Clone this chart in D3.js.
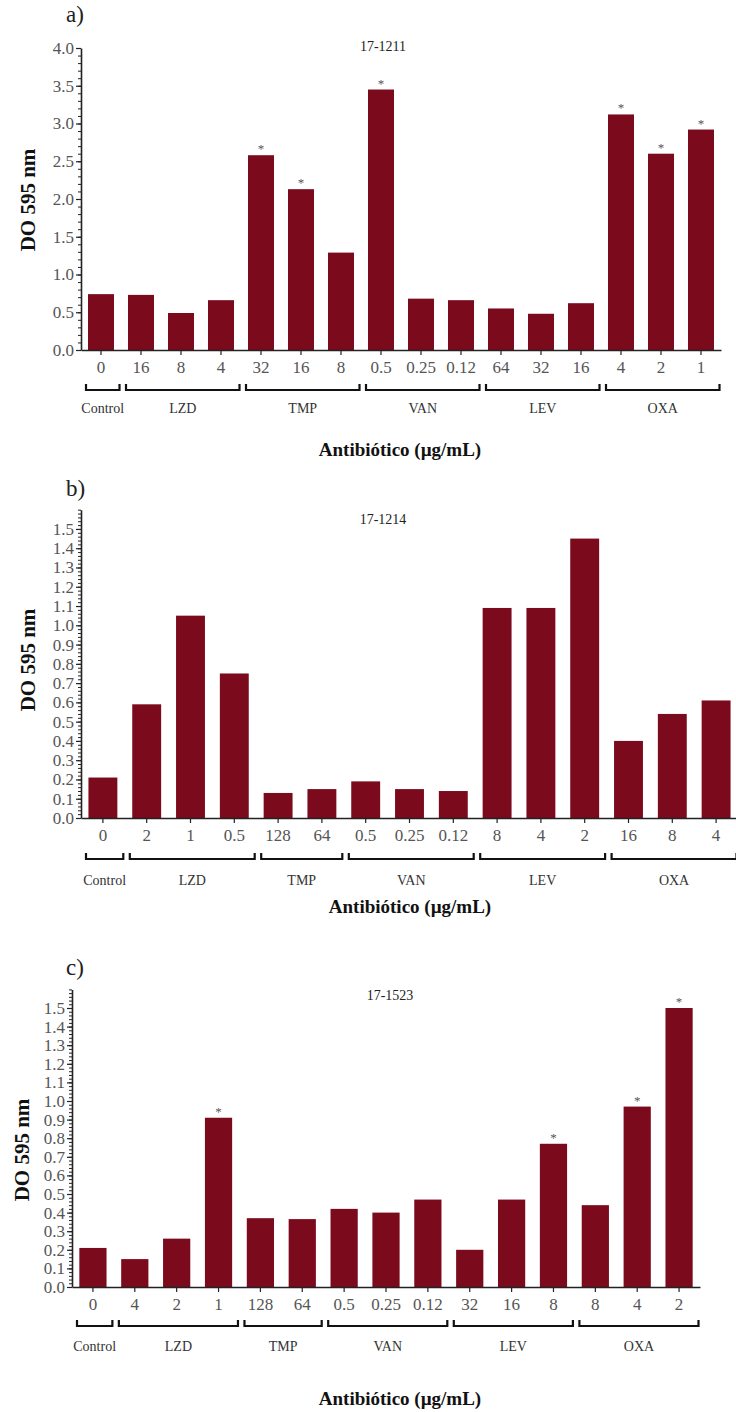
<!DOCTYPE html>
<html>
<head>
<meta charset="utf-8">
<script src="https://cdn.jsdelivr.net/npm/d3@7"></script>
<style>
  html, body { margin: 0; padding: 0; background: #fff; }
  svg { display: block; }
  svg text { font-family: "Liberation Serif", "Times New Roman", Times, "DejaVu Serif", serif; fill: #222; }
</style>
</head>
<body>
<svg id="chart" width="736" height="1412"></svg>
<script>
// ---- Panel a) strain 17-1211 ----
const doseLabelsA = ["0","16","8","4","32","16","8","0.5","0.25","0.12","64","32","16","4","2","1"];
const valuesA     = [0.74,0.73,0.49,0.66,2.58,2.13,1.29,3.45,0.68,0.66,0.55,0.48,0.62,3.12,2.60,2.92];
const signifA     = [0,0,0,0,1,1,0,1,0,0,0,0,0,1,1,1];
const groupNamesA = ["Control","LZD","TMP","VAN","LEV","OXA"];
const groupSizesA = [1,3,3,3,3,3];

// ---- Panel b) strain 17-1214 ----
const doseLabelsB = ["0","2","1","0.5","128","64","0.5","0.25","0.12","8","4","2","16","8","4"];
const valuesB     = [0.21,0.59,1.05,0.75,0.13,0.15,0.19,0.15,0.14,1.09,1.09,1.45,0.40,0.54,0.61];
const signifB     = [0,0,0,0,0,0,0,0,0,0,0,0,0,0,0];
const groupNamesB = ["Control","LZD","TMP","VAN","LEV","OXA"];
const groupSizesB = [1,3,2,3,3,3];

// ---- Panel c) strain 17-1523 ----
const doseLabelsC = ["0","4","2","1","128","64","0.5","0.25","0.12","32","16","8","8","4","2"];
const valuesC     = [0.21,0.15,0.26,0.91,0.37,0.365,0.42,0.40,0.47,0.20,0.47,0.77,0.44,0.97,1.50];
const signifC     = [0,0,0,1,0,0,0,0,0,0,0,1,0,1,1];
const groupNamesC = ["Control","LZD","TMP","VAN","LEV","OXA"];
const groupSizesC = [1,3,2,3,3,3];

const yTicksA = [0,0.5,1.0,1.5,2.0,2.5,3.0,3.5,4.0];
const yTicksBC = [0,0.1,0.2,0.3,0.4,0.5,0.6,0.7,0.8,0.9,1.0,1.1,1.2,1.3,1.4,1.5];

const BAR = "#7c0a1d";
const SERIF = '"Liberation Serif", "Times New Roman", Times, "DejaVu Serif", serif';
const svg = d3.select("#chart");

function drawPanel(p) {
  const g = svg.append("g").attr("font-family", SERIF);
  const idx = d3.range(p.labels.length);
  const x = d3.scaleBand().domain(idx).range([p.x0, p.x1]).paddingInner(p.pad).paddingOuter(p.pad / 2);
  const y = d3.scaleLinear().domain([0, p.yMax]).range([p.yZero, p.yTopPx]);

  // bars
  g.selectAll("rect.bar").data(p.values).enter().append("rect")
    .attr("x", (d, i) => x(i)).attr("width", x.bandwidth())
    .attr("y", d => y(d)).attr("height", d => y(0) - y(d))
    .attr("fill", BAR);

  // significance marks
  g.selectAll("text.star").data(p.values.map((v, i) => ({ v, i })).filter(d => p.signif[d.i]))
    .enter().append("text")
    .attr("x", d => x(d.i) + x.bandwidth() / 2).attr("y", d => y(d.v) - 2)
    .attr("text-anchor", "middle").attr("font-size", 13).style("fill", "#555").text("*");

  // minor y ticks
  const minor = d3.range(0, p.yMax + 1e-9, p.minorStep);
  g.append("g").attr("transform", `translate(${p.x0},0)`)
    .call(d3.axisLeft(y).tickValues(minor).tickSize(3).tickFormat(""))
    .call(a => a.select(".domain").remove())
    .call(a => a.selectAll("line").attr("stroke", "#222").attr("stroke-width", 1));

  // major y ticks & domain
  const yAxis = g.append("g").attr("transform", `translate(${p.x0},0)`)
    .call(d3.axisLeft(y).tickValues(p.yTicks).tickSize(5).tickSizeOuter(0).tickPadding(2).tickFormat(d3.format(".1f")));
  yAxis.attr("font-family", SERIF);
  yAxis.select(".domain").attr("stroke", "#222").attr("stroke-width", 1.6);
  yAxis.selectAll("line").attr("stroke", "#222").attr("stroke-width", 1.2);
  yAxis.selectAll("text").attr("font-size", p.yFont).style("fill", "#555");

  // x axis
  const xAxis = g.append("g").attr("transform", `translate(0,${p.yZero})`)
    .call(d3.axisBottom(x).tickSize(5).tickSizeOuter(0).tickPadding(6).tickFormat(i => p.labels[i]));
  xAxis.attr("font-family", SERIF);
  xAxis.select(".domain").attr("stroke", "#222").attr("stroke-width", 1.6);
  xAxis.selectAll("line").attr("stroke", "#222").attr("stroke-width", 1.2);
  xAxis.selectAll("text").attr("font-size", p.xFont).style("fill", "#555");

  // group brackets
  let start = 0;
  p.groupSizes.forEach((n, k) => {
    const gap = (x.step() - x.bandwidth()) / 2;
    const left = x(start) - gap + 5;
    const right = x(start + n - 1) + x.bandwidth() + gap - 1.5;
    const by = p.bracketY;
    g.append("path")
      .attr("d", `M${left},${by - 6}V${by}H${right}V${by - 6}`)
      .attr("fill", "none").attr("stroke", "#111").attr("stroke-width", 2.2);
    g.append("text").attr("x", (left + right) / 2).attr("y", p.groupLabelY)
      .attr("text-anchor", "middle").attr("font-size", 14).style("fill", "#333")
      .text(p.groupNames[k]);
    start += n;
  });

  // panel letter, title, axis titles
  g.append("text").attr("x", p.letterX).attr("y", p.letterY).attr("font-size", 23).text(p.letter);
  g.append("text").attr("x", p.titleX).attr("y", p.titleY).attr("text-anchor", "middle")
    .attr("font-size", 14).text(p.title);
  g.append("text").attr("transform", `translate(${p.yTitleX},${p.yTitleY}) rotate(-90)`)
    .attr("text-anchor", "middle").attr("font-size", 21).attr("font-weight", "bold").style("fill", "#111")
    .text("DO 595 nm");
  g.append("text").attr("x", p.xTitleX).attr("y", p.xTitleY).attr("text-anchor", "middle")
    .attr("font-size", 19).attr("font-weight", "bold").style("fill", "#111")
    .text("Antibiótico (µg/mL)");
}

drawPanel({
  labels: doseLabelsA, values: valuesA, signif: signifA, groupNames: groupNamesA, groupSizes: groupSizesA,
  x0: 81, x1: 721, pad: 0.35, yZero: 350, yTopPx: 48, yMax: 4, yTicks: yTicksA, minorStep: 0.1,
  yFont: 17, xFont: 17, bracketY: 390, groupLabelY: 413,
  letter: "a)", letterX: 66, letterY: 22, title: "17-1211", titleX: 383, titleY: 51,
  yTitleX: 35, yTitleY: 200, xTitleX: 400, xTitleY: 456
});

drawPanel({
  labels: doseLabelsB, values: valuesB, signif: signifB, groupNames: groupNamesB, groupSizes: groupSizesB,
  x0: 81, x1: 738, pad: 0.34, yZero: 818, yTopPx: 818 - 1.6 * 192.7, yMax: 1.6, yTicks: yTicksBC, minorStep: 0.02,
  yFont: 17, xFont: 17, bracketY: 859, groupLabelY: 885,
  letter: "b)", letterX: 66, letterY: 496, title: "17-1214", titleX: 383, titleY: 524,
  yTitleX: 35, yTitleY: 660, xTitleX: 410, xTitleY: 913
});

drawPanel({
  labels: doseLabelsC, values: valuesC, signif: signifC, groupNames: groupNamesC, groupSizes: groupSizesC,
  x0: 72, x1: 700, pad: 0.35, yZero: 1287, yTopPx: 1287 - 1.6 * 186, yMax: 1.6, yTicks: yTicksBC, minorStep: 0.02,
  yFont: 17, xFont: 17, bracketY: 1326, groupLabelY: 1351,
  letter: "c)", letterX: 66, letterY: 975, title: "17-1523", titleX: 390, titleY: 1000,
  yTitleX: 29, yTitleY: 1150, xTitleX: 400, xTitleY: 1405
});
</script>
</body>
</html>
